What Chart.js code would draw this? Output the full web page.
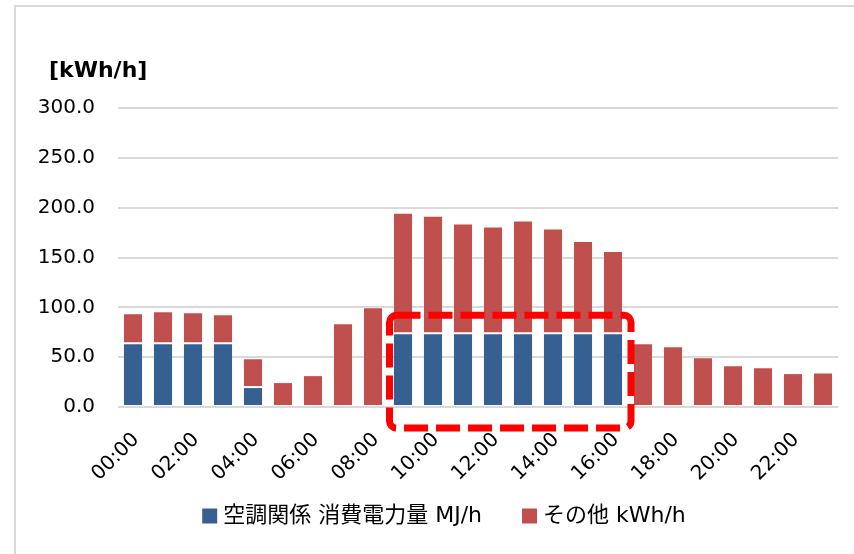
<!DOCTYPE html>
<html>
<head>
<meta charset="utf-8">
<script src="https://cdn.jsdelivr.net/npm/chart.js@4"></script>
<style>
  html, body { margin:0; padding:0; background:#fff; overflow:hidden; }
  #wrap { position:relative; width:854px; height:554px; overflow:hidden; }
  #frame { position:absolute; left:14px; top:5px; width:900px; height:600px; border:2px solid #d9d9d9; box-sizing:border-box; }
  #cv { position:absolute; left:0; top:0; }
</style>
</head>
<body>
<div id="wrap">
  <div id="frame"></div>
  <canvas id="cv" width="888" height="554" style="width:888px;height:554px"></canvas>
</div>
<script>
const hours = ["00:00","01:00","02:00","03:00","04:00","05:00","06:00","07:00","08:00","09:00","10:00","11:00","12:00","13:00","14:00","15:00","16:00","17:00","18:00","19:00","20:00","21:00","22:00","23:00"];
const hvacPower = [64,64,64,64,20,0,0,0,0,74,74,74,74,74,74,74,74,0,0,0,0,0,0,0];
const otherPower = [30,32,31,29,29,25,32,84,100,121,118,110,107,113,105,92.5,82.5,64,61,50,42,40,34,34.5];
const yTicks = [0,50,100,150,200,250,300];
const seriesNames = ["空調関係 消費電力量 MJ/h","その他 kWh/h"];
const seriesColors = ["#376092","#C0504D"];
const unitTitle = "[kWh/h]";
const highlightFrom = 9, highlightTo = 16, highlightTop = 92;

const FONT = "'DejaVu Sans', 'Noto Sans CJK JP', sans-serif";

const decor = {
  id:'decor',
  afterDraw(chart){
    const ctx = chart.ctx;
    const xs = chart.scales.x, ys = chart.scales.y;
    const cw = xs.getPixelForValue(1) - xs.getPixelForValue(0);
    // highlight dashed box
    const x0 = xs.getPixelForValue(highlightFrom) - 0.45*cw;
    const x1 = xs.getPixelForValue(highlightTo) + 0.6*cw;
    const y0 = ys.getPixelForValue(highlightTop);
    const y1 = ys.bottom + 21;
    ctx.save();
    ctx.strokeStyle = '#FF0000';
    ctx.lineWidth = 7;
    ctx.setLineDash([24,8]);
    ctx.beginPath();
    ctx.roundRect(x0, y0, x1-x0, y1-y0, 7);
    ctx.stroke();
    ctx.restore();
    // unit title
    ctx.save();
    ctx.font = "bold 22px " + FONT;
    ctx.fillStyle = '#000';
    ctx.textBaseline = 'middle';
    ctx.textAlign = 'left';
    ctx.fillText(unitTitle, 49, 71);
    ctx.restore();
    // legend
    ctx.save();
    ctx.font = "22px " + FONT;
    const box = 15, gapBT = 6, gapItems = 40;
    const widths = seriesNames.map(n => ctx.measureText(n).width);
    const total = widths.reduce((a,w)=>a+box+gapBT+w,0) + gapItems*(seriesNames.length-1);
    let x = 444 - total/2;
    const cy = 516;
    ctx.textBaseline = 'middle';
    ctx.textAlign = 'left';
    seriesNames.forEach((n,i)=>{
      ctx.fillStyle = seriesColors[i];
      ctx.fillRect(x, cy-7.5, box, box);
      ctx.fillStyle = '#000';
      ctx.fillText(n, x+box+gapBT, cy);
      x += box+gapBT+widths[i]+gapItems;
    });
    ctx.restore();
  }
};

new Chart(document.getElementById('cv'), {
  type:'bar',
  data:{
    labels: hours,
    datasets:[
      {label:seriesNames[0], data:hvacPower, backgroundColor:seriesColors[0], borderColor:'rgba(255,255,255,0.15)', borderWidth:1, borderSkipped:false, barPercentage:0.67, categoryPercentage:1},
      {label:seriesNames[1], data:otherPower, backgroundColor:seriesColors[1], borderColor:'rgba(255,255,255,0.25)', borderWidth:1, borderSkipped:false, barPercentage:0.67, categoryPercentage:1}
    ]
  },
  options:{
    responsive:false,
    animation:false,
    devicePixelRatio:1,
    layout:{ padding:{ top:108, left:0, right:50, bottom:0 } },
    plugins:{ legend:{display:false}, title:{display:false}, tooltip:{enabled:false} },
    scales:{
      x:{
        stacked:true,
        grid:{display:false, drawTicks:false},
        border:{display:false},
        afterFit(s){ s.height = 554 - 407; },
        ticks:{
          autoSkip:false, minRotation:45, maxRotation:45, padding:21, labelOffset:3,
          color:'#000', font:{family:FONT, size:20},
          callback(v,i){ return i%2===0 ? hours[i] : ''; }
        }
      },
      y:{
        stacked:true, min:0, max:300,
        afterFit(s){ s.width = 118; },
        afterBuildTicks(s){ s.ticks = yTicks.map(v=>({value:v})); },
        grid:{color:'#d9d9d9', lineWidth:2, drawTicks:false},
        border:{display:false},
        ticks:{
          padding:23, color:'#000', font:{family:FONT, size:20},
          callback(v){ return Number(v).toFixed(1); }
        }
      }
    }
  },
  plugins:[decor]
});
</script>
</body>
</html>
